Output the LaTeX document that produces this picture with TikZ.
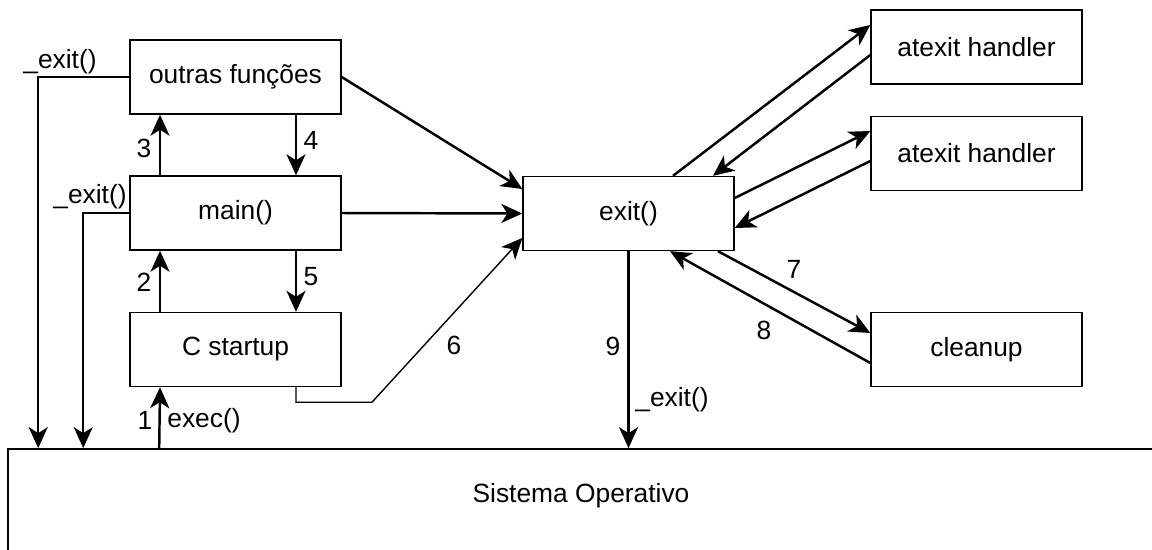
\documentclass[tikz,border=0pt]{standalone}
\usepackage{fontspec}
\setmainfont{Liberation Sans}
\usetikzlibrary{arrows.meta}

\tikzset{
    box/.style={draw, line width=0.8pt, minimum width=4.22cm, minimum height=1.48cm, inner sep=0pt},
    arr/.style={-{Stealth[length=0.42cm, width=0.38cm, inset=0.12cm]}, line width=1.4pt},
    thinarr/.style={-{Stealth[length=0.42cm, width=0.38cm, inset=0.12cm]}, line width=0.8pt},
    lbl/.style={inner sep=0pt}
}

\begin{document}
\begin{tikzpicture}[x=0.02cm, y=-0.02cm, font=\fontsize{15}{18}\selectfont]
    \useasboundingbox (0,0) rectangle (1152,549);
    % Boxes on the left
        \node[box] (outras) at (235.5, 77) {outras funções};
        \node[box] (main) at (235.5, 213) {main()};
        \node[box] (startup) at (235.5, 349.5) {C startup};
        % exit() and the handlers
        \node[box] (exit) at (628.5, 213.5) {exit()};
        \node[box] (atexit1) at (976.5, 47) {atexit handler};
        \node[box] (atexit2) at (976.5, 153.5) {atexit handler};
        \node[box] (cleanup) at (976.5, 349.5) {cleanup};
        % Operating system
        \node[draw, line width=1pt, minimum width=23.14cm, minimum height=2.32cm, inner sep=0pt] (os) at (586.5, 507) {};
        \node[lbl] (oslbl) at (581, 496) {Sistema Operativo};
        % Arrows between the left boxes
        \draw[arr] ([xshift=3.04cm]os.north west) -- ([xshift=-1.51cm]startup.south);
        \draw[arr] ([xshift=-1.51cm]startup.north) -- ([xshift=-1.51cm]main.south);
        \draw[arr] ([xshift=-1.51cm]main.north) -- ([xshift=-1.51cm]outras.south);
        \draw[arr] ([xshift=1.21cm]outras.south) -- ([xshift=1.21cm]main.north);
        \draw[arr] ([xshift=1.21cm]main.south) -- ([xshift=1.21cm]startup.north);
        \draw[arr] (outras.west) -| ([xshift=0.62cm]os.north west);
        \draw[arr] (main.west) -| ([xshift=1.52cm]os.north west);
        % Arrows into exit()
        \draw[arr] (outras.east) -- ([yshift=0.49cm]exit.west);
        \draw[arr] (main.east) -- (exit.west);
        \draw[thinarr] ([xshift=1.21cm]startup.south) -- ++(0,15) -- ++(76,0) -- ([yshift=-0.49cm]exit.west);
        % Arrows to the handlers
        \draw[arr] ([xshift=0.89cm]exit.north) -- ([yshift=0.44cm]atexit1.west);
        \draw[arr] ([yshift=-0.16cm]atexit1.west) -- ([xshift=1.69cm]exit.north);
        \draw[arr] ([yshift=0.31cm]exit.east) -- ([yshift=0.45cm]atexit2.west);
        \draw[arr] ([yshift=-0.15cm]atexit2.west) -- ([yshift=-0.29cm]exit.east);
        \draw[arr] ([xshift=1.79cm]exit.south) -- ([yshift=0.33cm]cleanup.west);
        \draw[arr] ([yshift=-0.27cm]cleanup.west) -- ([xshift=0.83cm]exit.south);
        \draw[arr] (exit.south) -- (exit.south |- os.north);
        % Labels
        \node[lbl] (l1) at (145, 420) {1};
        \node[lbl] (lexec) at (204, 421) {exec()};
        \node[lbl] (l2) at (144, 282) {2};
        \node[lbl] (l3) at (144, 148) {3};
        \node[lbl] (l4) at (311, 140) {4};
        \node[lbl] (l5) at (311, 277) {5};
        \node[lbl] (l6) at (454, 345) {6};
        \node[lbl] (l7) at (794, 269) {7};
        \node[lbl] (l8) at (764, 330) {8};
        \node[lbl] (l9) at (613, 346) {9};
        \node[lbl] (ex1) at (60, 62) {\_exit()};
        \node[lbl] (ex2) at (90, 197) {\_exit()};
        \node[lbl] (ex3) at (672, 400) {\_exit()};
\end{tikzpicture}
\end{document}
